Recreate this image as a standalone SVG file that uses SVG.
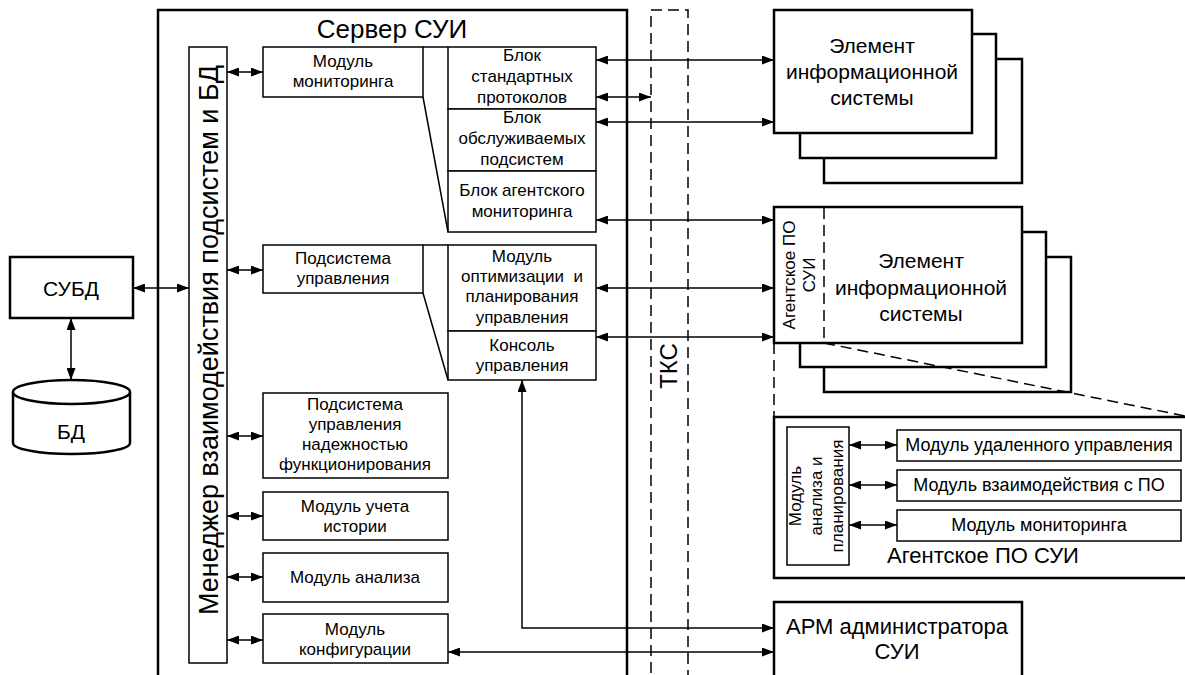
<svg xmlns="http://www.w3.org/2000/svg" width="1185" height="675" viewBox="0 0 1185 675">
<defs>
<marker id="ah" viewBox="0 0 12 9" refX="12" refY="4.5" markerWidth="12" markerHeight="9" markerUnits="userSpaceOnUse" orient="auto-start-reverse">
<path d="M0,0 L12,4.5 L0,9 z" fill="#000"/>
</marker>
<style>
text{font-family:"Liberation Sans",Arial,sans-serif;fill:#000;text-anchor:middle}
.m{font-size:17px}
.b{font-size:21px}
.box{fill:#fff;stroke:#000;stroke-width:1.5}
.thick{fill:#fff;stroke:#000;stroke-width:2.5}
.open{fill:none;stroke:#000;stroke-width:2.5}
.ln{fill:none;stroke:#000;stroke-width:1.5}
.bi{fill:none;stroke:#000;stroke-width:1.5;marker-start:url(#ah);marker-end:url(#ah)}
.dash{fill:none;stroke:#000;stroke-width:1.5;stroke-dasharray:11 6}
</style>
</defs>
<rect width="1185" height="675" fill="#fff"/>

<g id="server">
<path class="open" d="M158,690 V10 H627 V690"/>
<text x="392" y="38" style="font-size:26px">Сервер СУИ</text>
</g>

<g id="tks">
<path class="dash" d="M651,690 V10 H688 V690"/>
<text transform="translate(677,366) rotate(-90)" style="font-size:24px">ТКС</text>
</g>

<g id="subd">
<rect class="thick" x="10" y="257" width="123" height="61"/>
<text class="b" x="71" y="296">СУБД</text>
</g>

<g id="bd">
<path class="thick" d="M13,392 V443 A58.5,11 0 0 0 130,443 V392"/>
<ellipse class="thick" cx="71.5" cy="392" rx="58.5" ry="12"/>
<text class="b" x="71" y="439">БД</text>
</g>

<g id="manager">
<rect class="box" x="189" y="47" width="38" height="616"/>
<text transform="translate(218,340) rotate(-90)" style="font-size:27px">Менеджер взаимодействия подсистем и БД</text>
</g>

<g id="mod-monitoring">
<rect class="box" x="263" y="47" width="160" height="50"/>
<text class="m" x="343" y="67">Модуль</text>
<text class="m" x="343" y="87">мониторинга</text>
</g>

<g id="blocks-monitoring">
<rect class="box" x="448" y="47" width="148" height="62"/>
<text class="m" x="522" y="61">Блок</text>
<text class="m" x="522" y="82">стандартных</text>
<text class="m" x="522" y="103">протоколов</text>
<rect class="box" x="448" y="109" width="148" height="62"/>
<text class="m" x="522" y="123">Блок</text>
<text class="m" x="522" y="144">обслуживаемых</text>
<text class="m" x="522" y="165">подсистем</text>
<rect class="box" x="448" y="171" width="148" height="61"/>
<text class="m" x="522" y="196">Блок агентского</text>
<text class="m" x="522" y="217">мониторинга</text>
<path class="ln" d="M423,47 H448 M423,97 L448,232"/>
</g>

<g id="subsys-control">
<rect class="box" x="263" y="245" width="160" height="48"/>
<text class="m" x="343" y="264">Подсистема</text>
<text class="m" x="343" y="284">управления</text>
</g>

<g id="blocks-control">
<rect class="box" x="448" y="245" width="148" height="86"/>
<text class="m" x="522" y="262">Модуль</text>
<text class="m" x="522" y="282" style="white-space:pre">оптимизации  и</text>
<text class="m" x="522" y="302">планирования</text>
<text class="m" x="522" y="323">управления</text>
<rect class="box" x="448" y="331" width="148" height="49"/>
<text class="m" x="522" y="351">Консоль</text>
<text class="m" x="522" y="371">управления</text>
<path class="ln" d="M423,245 H448 M423,293 L448,380"/>
</g>

<g id="subsys-reliability">
<rect class="box" x="263" y="393" width="185" height="85"/>
<text class="m" x="355" y="410">Подсистема</text>
<text class="m" x="355" y="430">управления</text>
<text class="m" x="355" y="450">надежностью</text>
<text class="m" x="355" y="470">функционирования</text>
</g>

<g id="mod-history">
<rect class="box" x="263" y="492" width="185" height="48"/>
<text class="m" x="355" y="512">Модуль учета</text>
<text class="m" x="355" y="532">истории</text>
</g>

<g id="mod-analysis">
<rect class="box" x="263" y="553" width="185" height="49"/>
<text class="m" x="355" y="583">Модуль анализа</text>
</g>

<g id="mod-config">
<rect class="box" x="263" y="614" width="185" height="49"/>
<text class="m" x="355" y="635">Модуль</text>
<text class="m" x="355" y="655">конфигурации</text>
</g>

<g id="element-is">
<rect class="thick" x="824" y="59" width="198" height="124"/>
<rect class="thick" x="800" y="34" width="196" height="124"/>
<rect class="thick" x="774" y="10" width="198" height="123"/>
<text class="b" x="872" y="53">Элемент</text>
<text class="b" x="872" y="79">информационной</text>
<text class="b" x="872" y="105">системы</text>
</g>

<g id="element-is-agent">
<rect class="thick" x="824" y="257" width="247" height="135"/>
<rect class="thick" x="800" y="232" width="246" height="135"/>
<rect class="thick" x="774" y="207" width="248" height="136"/>
<path class="dash" d="M824,208 V343"/>
<text transform="translate(795,275) rotate(-90)" style="font-size:17px">Агентское ПО</text>
<text transform="translate(815,275) rotate(-90)" style="font-size:17px">СУИ</text>
<text class="b" x="921" y="268">Элемент</text>
<text class="b" x="921" y="295">информационной</text>
<text class="b" x="921" y="321">системы</text>
</g>

<g id="agent-po">
<rect class="thick" x="774" y="417" width="430" height="161"/>
<rect class="box" x="787" y="427" width="62" height="138"/>
<text transform="translate(801,496) rotate(-90)" class="m">Модуль</text>
<text transform="translate(822,496) rotate(-90)" class="m">анализа и</text>
<text transform="translate(843,496) rotate(-90)" class="m">планирования</text>
<rect class="box" x="897" y="430" width="284" height="31"/>
<text x="1039" y="451" style="font-size:18px">Модуль удаленного управления</text>
<rect class="box" x="897" y="470" width="284" height="31"/>
<text x="1039" y="491" style="font-size:18px">Модуль взаимодействия с ПО</text>
<rect class="box" x="897" y="510" width="284" height="31"/>
<text x="1039" y="531" style="font-size:18px">Модуль мониторинга</text>
<text x="983" y="563" style="font-size:22px">Агентское ПО СУИ</text>
</g>

<g id="arm">
<path class="open" d="M774,690 V602 H1022 V690" style="fill:#fff"/>
<text x="897" y="634" style="font-size:22px">АРМ администратора</text>
<text x="897" y="659" style="font-size:22px">СУИ</text>
</g>

<g id="connectors">
<path class="bi" d="M133,288 H189"/>
<path class="bi" d="M71,318 V380"/>
<path class="bi" d="M227,72 H263"/>
<path class="bi" d="M227,270 H263"/>
<path class="bi" d="M227,436 H263"/>
<path class="bi" d="M227,516 H263"/>
<path class="bi" d="M227,577 H263"/>
<path class="bi" d="M227,640 H263"/>
<path class="bi" d="M596,60 H774"/>
<path class="bi" d="M596,97 H651"/>
<path class="bi" d="M596,122 H774"/>
<path class="bi" d="M596,220 H774"/>
<path class="bi" d="M596,288 H774"/>
<path class="bi" d="M596,337 H774"/>
<path class="bi" d="M522,380 V628 H774"/>
<path class="bi" d="M448,652 H774"/>
<path class="bi" d="M849,445 H897"/>
<path class="bi" d="M849,485 H897"/>
<path class="bi" d="M849,525 H897"/>
<path class="dash" d="M774,343 V417"/>
<path class="dash" d="M824,343 L1185,416"/>
</g>
</svg>
